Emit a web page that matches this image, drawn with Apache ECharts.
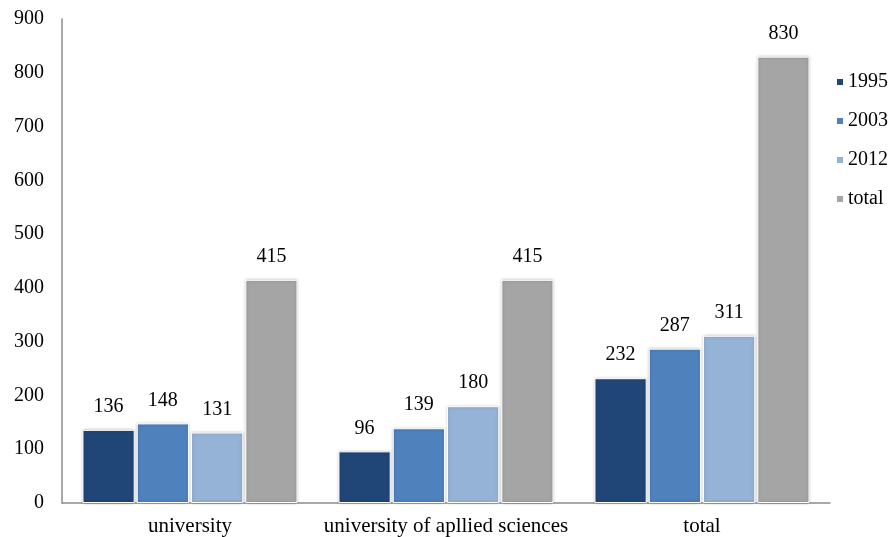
<!DOCTYPE html>
<html><head><meta charset="utf-8">
<script src="https://cdn.jsdelivr.net/npm/echarts@6/dist/echarts.min.js"></script>
<style>html,body{margin:0;padding:0;background:#fff}#c{width:892px;height:537px}</style>
</head><body><div id="c"></div>
<script>
const categories = ['university', 'university of apllied sciences', 'total'];
const seriesNames = ['1995', '2003', '2012', 'total'];
const v1995 = [136, 96, 232];
const v2003 = [148, 139, 287];
const v2012 = [131, 180, 311];
const vTotal = [415, 415, 830];
const colors = ['#1F4677', '#4F81BD', '#95B3D7', '#A5A5A5'];
const font = '"Liberation Serif", "Times New Roman", serif';
const values = [v1995, v2003, v2012, vTotal];

const chart = echarts.init(document.getElementById('c'));
chart.setOption({
  animation: false,
  textStyle: { fontFamily: font },
  grid: { left: 62, right: 62, top: 19, bottom: 33, containLabel: false },
  legend: {
    orient: 'vertical', left: 830, top: 67,
    itemWidth: 8, itemHeight: 8, itemGap: 19,
    icon: 'rect',
    textStyle: { fontFamily: font, fontSize: 20, color: '#000', padding: [0, 0, 0, -1] },
    data: seriesNames
  },
  xAxis: {
    type: 'category', data: categories,
    axisLine: { lineStyle: { color: '#8c8c8c', width: 1.5 } },
    axisTick: { show: false },
    axisLabel: { interval: 0, fontFamily: font, fontSize: 21, color: '#000', margin: 13 }
  },
  yAxis: {
    type: 'value', min: 0, max: 900, interval: 100,
    axisLine: { show: true, lineStyle: { color: '#8c8c8c', width: 1.5 } },
    axisTick: { show: false },
    splitLine: { show: false },
    axisLabel: { fontFamily: font, fontSize: 20, color: '#000', margin: 18 }
  },
  series: seriesNames.map((n, i) => ({
    name: n, type: 'bar', data: values[i],
    barGap: '4%', barCategoryGap: '16%',
    itemStyle: { color: colors[i], borderColor: '#fff', borderWidth: 1,
      shadowBlur: 3, shadowColor: 'rgba(0,0,0,0.25)' },
    label: { show: true, position: 'top', distance: 13, fontFamily: font, fontSize: 20, color: '#000' }
  }))
});
</script></body></html>
